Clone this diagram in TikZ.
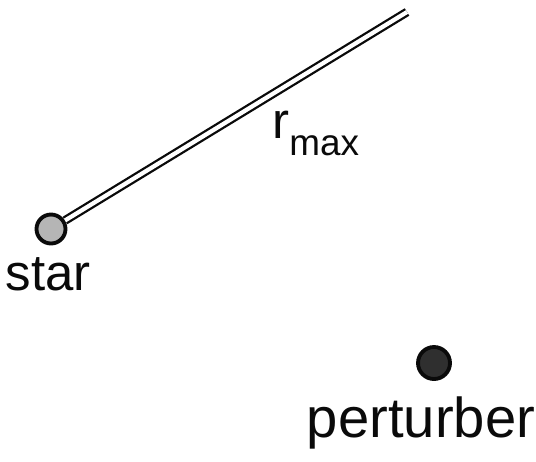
\documentclass[tikz,border=0pt]{standalone}
\usepackage{fontspec}
\setmainfont{Liberation Sans}
\usetikzlibrary{positioning}
\definecolor{ink}{RGB}{10,10,10}

\begin{document}
\begin{tikzpicture}[
  x=0.02cm, y=-0.02cm,
  body/.style={circle, draw=ink, line width=2.2pt, minimum size=0.58cm, inner sep=0pt},
  lbl/.style={text=ink, font=\fontsize{29}{34}\selectfont, inner sep=0pt},
  rod/.style={draw=ink, double=white, double distance=2.4pt, line width=1.3pt}
]
\useasboundingbox (0,0) rectangle (536,461);
\node[body, fill=ink!30] (star) at (51,229) {};
\node[body, fill=ink!85, minimum size=0.64cm] (pert) at (434,363) {};
\coordinate (tip) at (407,12);
\node[lbl, anchor=base] (starlbl) at (48,290) {star};
\node[lbl, anchor=base, font=\fontsize{32}{36}\selectfont] (pertlbl) at (421,437) {perturber};
\node[lbl, anchor=base west] (rlbl) at (272,138)
  {r\raisebox{-0.34em}{\fontsize{21}{24}\selectfont max}};

\draw[rod] (star) -- (tip);
\end{tikzpicture}
\end{document}
